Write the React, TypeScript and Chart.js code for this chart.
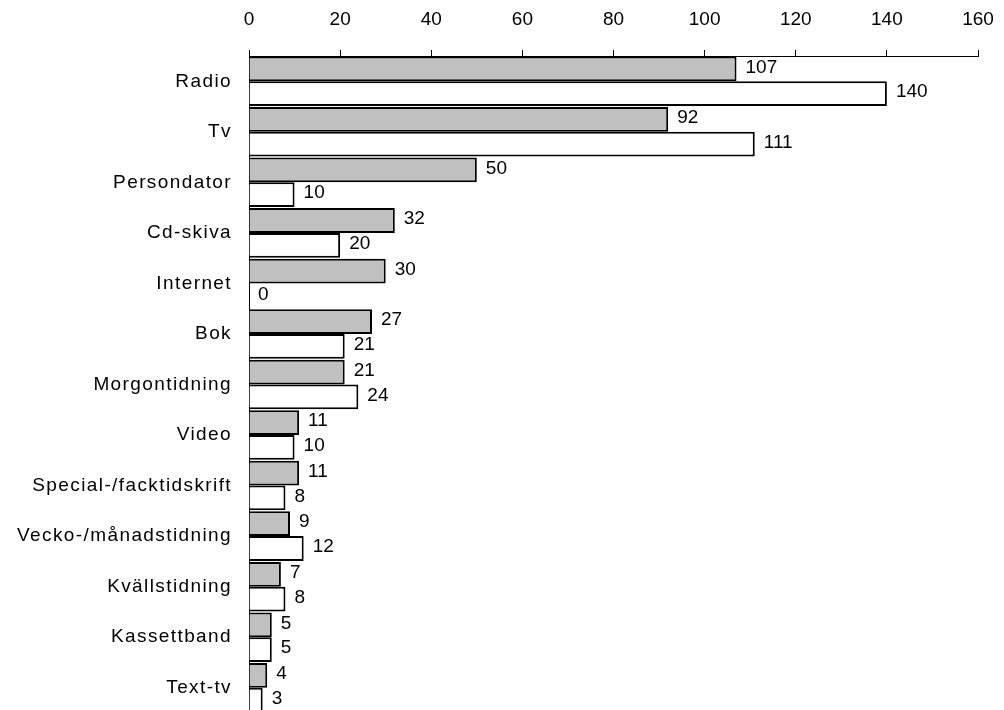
import React, { useEffect, useRef } from "react";
import { Chart, registerables } from "chart.js";

Chart.register(...registerables);

const categories = [
  "Radio",
  "Tv",
  "Persondator",
  "Cd-skiva",
  "Internet",
  "Bok",
  "Morgontidning",
  "Video",
  "Special-/facktidskrift",
  "Vecko-/månadstidning",
  "Kvällstidning",
  "Kassettband",
  "Text-tv",
];
const seriesGrey = [107, 92, 50, 32, 30, 27, 21, 11, 11, 9, 7, 5, 4];
const seriesWhite = [140, 111, 10, 20, 0, 21, 24, 10, 8, 12, 8, 5, 3];
const xTickMin = 0;
const xTickMax = 160;
const xTickStep = 20;

const FONT = "'Liberation Sans', Arial, sans-serif";

const valueLabels = {
  id: "valueLabels",
  afterDatasetsDraw(chart: any) {
    const ctx = chart.ctx;
    ctx.save();
    ctx.letterSpacing = "0px";
    ctx.font = `19px ${FONT}`;
    ctx.fillStyle = "#000";
    ctx.textAlign = "left";
    ctx.textBaseline = "middle";
    chart.data.datasets.forEach((ds: any, di: number) => {
      const meta = chart.getDatasetMeta(di);
      meta.data.forEach((el: any, i: number) => {
        ctx.fillText(String(ds.data[i]), el.x + 9, el.y - 1.5);
      });
    });
    ctx.restore();
  },
};

const spacing = {
  id: "spacing",
  beforeDraw(chart: any) {
    chart.ctx.letterSpacing = "1.4px";
  },
  beforeDatasetsDraw(chart: any) {
    chart.ctx.letterSpacing = "0px";
  },
};

export default function App() {
  const ref = useRef<HTMLCanvasElement>(null);
  useEffect(() => {
    if (!ref.current) return;
    const chart = new Chart(ref.current, {
      type: "bar",
      data: {
        labels: categories,
        datasets: [
          {
            data: seriesGrey,
            backgroundColor: "#c0c0c0",
            borderColor: "#000",
            borderWidth: 2,
          },
          {
            data: seriesWhite,
            backgroundColor: "#ffffff",
            borderColor: "#000",
            borderWidth: 2,
          },
        ],
      },
      options: {
        indexAxis: "y",
        responsive: false,
        animation: false,
        devicePixelRatio: 1,
        layout: { padding: { top: 9, right: 26, bottom: 3, left: 0 } },
        datasets: {
          bar: { categoryPercentage: 0.98, barPercentage: 1 },
        },
        plugins: {
          legend: { display: false },
          tooltip: { enabled: false },
        },
        scales: {
          x: {
            position: "top",
            min: xTickMin,
            max: xTickMax,
            ticks: {
              stepSize: xTickStep,
              color: "#000",
              padding: 18.5,
              z: 1,
              font: { family: FONT, size: 19 },
            },
            grid: {
              drawOnChartArea: false,
              drawTicks: true,
              tickLength: 6,
              color: "#000",
              lineWidth: 1,
            },
            border: { display: true, color: "#000", width: 1 },
            afterFit(scale: any) {
              scale.height = 47;
              scale.paddingLeft = 0;
              scale.paddingRight = 0;
            },
          },
          y: {
            ticks: {
              color: "#000",
              padding: 17,
              font: { family: FONT, size: 19 },
            },
            grid: { display: false, drawTicks: false },
            border: { display: true, color: "#000", width: 1 },
            afterFit(scale: any) {
              scale.width = 249;
              scale.paddingTop = 0;
              scale.paddingBottom = 0;
            },
          },
        },
      },
      plugins: [spacing, valueLabels],
    });
    return () => chart.destroy();
  }, []);
  return (
    <div
      style={{
        position: "fixed",
        top: 0,
        left: 0,
        width: 1004,
        height: 710,
        overflow: "hidden",
        background: "#fff",
      }}
    >
      <canvas
        ref={ref}
        width={1004}
        height={716}
        style={{ display: "block", width: 1004, height: 716 }}
      />
    </div>
  );
}
